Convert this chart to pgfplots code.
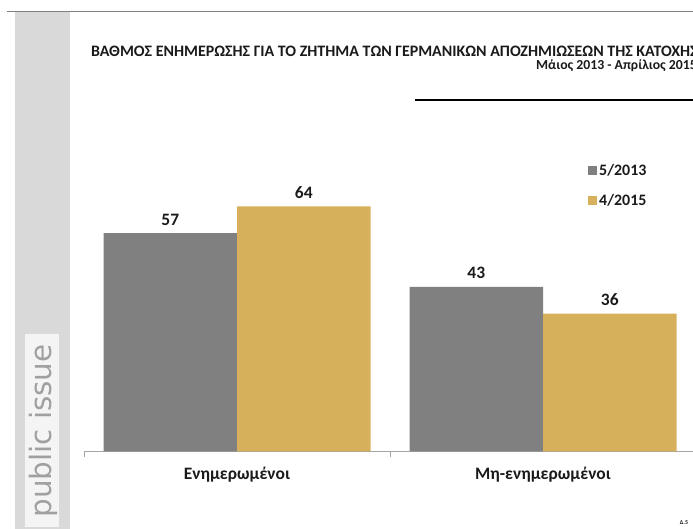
\documentclass[border=0pt]{standalone}
\usepackage{pgfplots}
\pgfplotsset{compat=1.18}
\usepackage{fontspec}
\setmainfont{Carlito}
\newfontfamily\pifont{DejaVu Sans}
\definecolor{barGray}{HTML}{808080}
\definecolor{barGold}{HTML}{D6B05A}
\definecolor{stripGray}{HTML}{D9D9D9}
\definecolor{boxGray}{HTML}{F4F4F4}
\definecolor{piText}{HTML}{A0A0A0}
\definecolor{axGray}{HTML}{A6A6A6}
\definecolor{txt}{HTML}{1A1A1A}
\begin{document}
\begin{tikzpicture}
\useasboundingbox (0bp,0bp) rectangle (693bp,529bp);
% left strip
\fill[stripGray] (15bp,0bp) rectangle (70bp,516.5bp);
\fill[boxGray] (25bp,2bp) rectangle (59bp,195bp);
\node[rotate=90, text=piText, font=\pifont\fontsize{29.5}{34}\selectfont, inner sep=0pt] at (43bp,98bp) {public issue};
% top line
\draw[barGray, line width=1bp] (7bp,517bp) -- (700bp,517bp);
% titles
\node[anchor=base west, inner sep=0pt, text=txt, font=\bfseries\fontsize{16}{19}\selectfont] at (91bp,472.5bp) {ΒΑΘΜΟΣ ΕΝΗΜΕΡΩΣΗΣ ΓΙΑ ΤΟ ΖΗΤΗΜΑ ΤΩΝ ΓΕΡΜΑΝΙΚΩΝ ΑΠΟΖΗΜΙΩΣΕΩΝ ΤΗΣ ΚΑΤΟΧΗΣ};
\node[anchor=base east, inner sep=0pt, text=txt, font=\bfseries\fontsize{13.8}{16}\selectfont] at (697bp,459bp) {Μάιος 2013 - Απρίλιος 2015};
\draw[black, line width=1.5bp] (415bp,429bp) -- (700bp,429bp);
\node[anchor=base, inner sep=0pt, text=txt, font=\bfseries\fontsize{6}{7}\selectfont] at (684bp,5bp) {Δ.5};
\begin{axis}[
  at={(84bp,77.5bp)}, anchor=south west,
  scale only axis, width=612bp, height=383bp,
  xmin=-0.5, xmax=1.5, ymin=0, ymax=100,
  ybar=0pt, bar width=133.5bp,
  axis x line*=bottom, hide y axis,
  x axis line style={axGray, line width=0.8bp},
  xtick={0,1}, xticklabels={Ενημερωμένοι, Μη-ενημερωμένοι},
  major tick length=0pt,
  minor xtick={-0.5,0.5,1.5}, minor tick length=5bp,
  tick align=outside, xtick pos=bottom,
  minor tick style={axGray, line width=0.8bp},
  xticklabel style={text=txt, font=\bfseries\fontsize{17.5}{20}\selectfont, yshift=-12bp},
  /pgf/number format/assume math mode=true,
  nodes near coords,
  every node near coord/.append style={text=txt, font=\bfseries\fontsize{17.5}{20}\selectfont, yshift=4.5bp},
  legend image code/.code={\draw[#1,draw=none] (0bp,-4.5bp) rectangle (9bp,4.5bp);},
  legend style={at={(0.8235,0.756)}, anchor=north west, draw=none, fill=none,
    font=\bfseries\fontsize{16}{19}\selectfont, text=txt, row sep=13.5bp, inner sep=0pt},
  legend cell align=left,
]
\addplot[fill=barGray, draw=none] coordinates {(0,57) (1,43)};
\addplot[fill=barGold, draw=none] coordinates {(0,64) (1,36)};
\legend{5/2013, 4/2015}
\end{axis}
\end{tikzpicture}
\end{document}
